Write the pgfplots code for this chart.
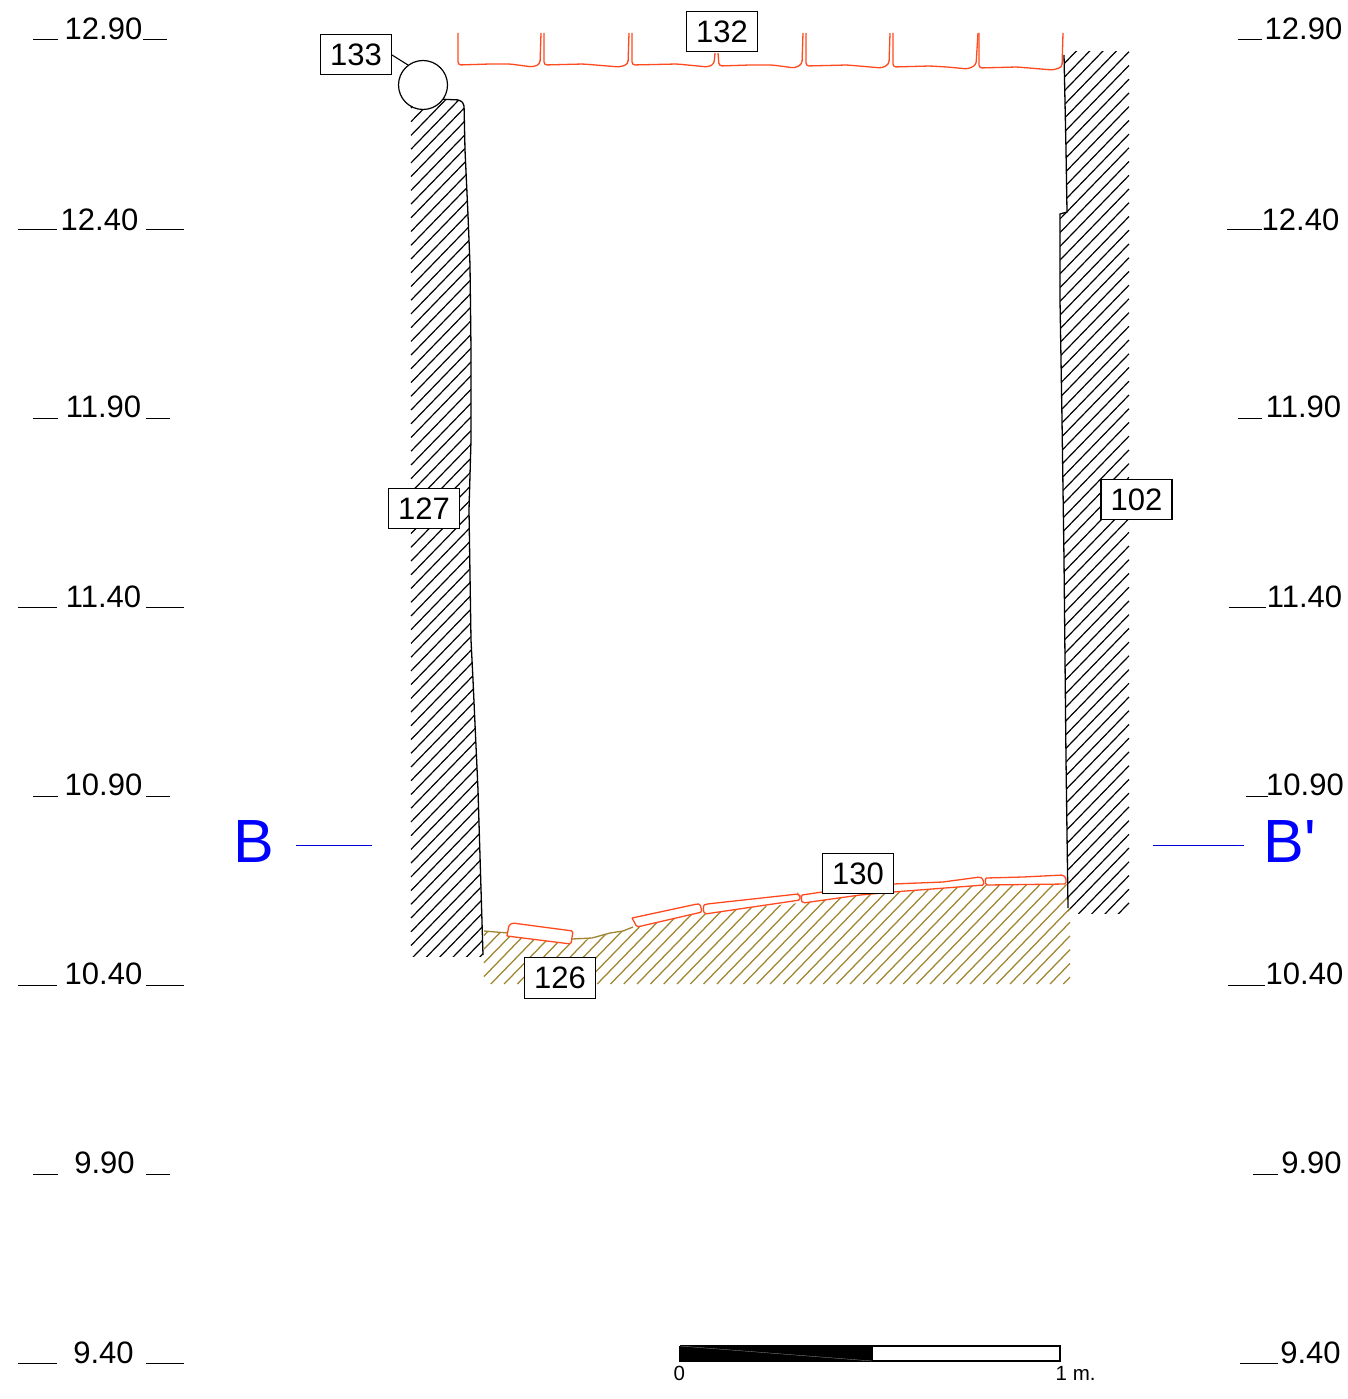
\documentclass[border=0pt]{standalone}
\usepackage{fontspec}
\setmainfont{Liberation Sans}
\usepackage{pgfplots}
\usepackage{pgfplotstable}
\pgfplotsset{compat=1.18}

\definecolor{brick}{HTML}{FF4A1F}
\definecolor{soil}{HTML}{A0852F}

% elevation labels, x is the middle of the text, y its baseline
\pgfplotstableread{
x y label
103.5 40 12.90
99.5 230 12.40
103.5 417 11.90
103.5 607 11.40
103.5 795 10.90
103.5 984 10.40
104.5 1173 9.90
103.5 1363 9.40
1303.5 40 12.90
1300.5 230 12.40
1303.5 417 11.90
1304.5 607 11.40
1305 795 10.90
1304.5 984 10.40
1311.5 1173 9.90
1310.5 1363 9.40
}\levels

% context numbers in boxes
\pgfplotstableread{
x y label
356 54.5 133
722 31.5 132
424 508.5 127
1136.5 499.5 102
858 873.5 130
560 978 126
}\contexts

% soil hatching: foot of each stroke and its run
\pgfplotstableread{
x y u v
1063.3 984 6.7 -6.9
1050.0 984 20 -20.6
1036.6 984 33.4 -34.4
1023.3 984 46.7 -48.1
1010.0 984 60 -61.8
996.6 984 73.4 -75.6
983.3 984 84.7 -87.2
970.0 984 98 -101
956.6 984 105 -108
943.3 984 105 -108
930.0 984 105 -108
916.6 984 105 -108
903.3 984 105 -108
890.0 984 105 -108
876.6 984 105 -108
863.3 984 105 -108
850.0 984 105 -108
836.6 984 105 -108
823.3 984 105 -108
810.0 984 105 -108
796.7 984 105 -108
783.4 984 105 -108
770.1 984 105 -108
756.8 984 105 -108
743.5 984 105 -108
730.2 984 105 -108
716.9 984 105 -108
703.6 984 105 -108
690.3 984 105 -108
677.0 984 105 -108
663.7 984 105 -108
650.4 984 105 -108
637.1 984 105 -108
623.8 984 105 -108
610.5 984 105 -108
597.2 984 105 -108
583.9 984 105 -108
570.6 984 105 -108
557.3 984 105 -108
544.0 984 105 -108
530.7 984 105 -108
517.4 984 105 -108
504.1 984 105 -108
490.8 984 105 -108
484 976.6 87 -90
484 962.8 78 -80
484 949.1 68 -70
484 935.4 58 -60
}\soilhatch

\begin{document}
\begin{tikzpicture}
\begin{axis}[
  scale only axis, width=1348pt, height=1399pt,
  xmin=0, xmax=1348, ymin=0, ymax=1399,
  y dir=reverse, hide axis, clip=false,
  unbounded coords=jump,
]
% keeps the page at full size
\addplot[draw=none] coordinates {(0,0) (1348,1399)};

% wall hatching, left wall 127
\addplot[black, line width=1.2pt, mark=none, quiver={u=73,v=-75.2}] coordinates {
(411,108.0)
(411,121.7) (411,135.4) (411,149.2) (411,162.9) (411,176.6) (411,190.4) (411,204.1) (411,217.8) (411,231.5) (411,245.3)
(411,259.0) (411,272.7) (411,286.5) (411,300.2) (411,313.9) (411,327.7) (411,341.4) (411,355.1) (411,368.8) (411,382.6)
(411,396.3) (411,410.0) (411,423.8) (411,437.5) (411,451.2) (411,465.0) (411,478.7) (411,492.4) (411,506.1) (411,519.9)
(411,533.6) (411,547.3) (411,561.1) (411,574.8) (411,588.5) (411,602.3) (411,616.0) (411,629.7) (411,643.4) (411,657.2)
(411,670.9) (411,684.6) (411,698.4) (411,712.1) (411,725.8) (411,739.6) (411,753.3) (411,767.0) (411,780.7) (411,794.5)
(411,808.2) (411,821.9) (411,835.7) (411,849.4) (411,863.1) (411,876.9) (411,890.6) (411,904.3) (411,918.0) (411,931.8)
(411,945.5) (411,959.2) (411,973.0) (411,986.7) (411,1000.4) (411,1014.2) (411,1027.9)
};
% wall hatching, right wall 102
\addplot[black, line width=1.2pt, mark=none, quiver={u=30,v=-30.9}] coordinates {(1060,67.9)};
\addplot[black, line width=1.2pt, mark=none, quiver={u=69,v=-71.1}] coordinates {
(1060,81.6) (1060,95.3) (1060,109.1)
(1060,122.8) (1060,136.5) (1060,150.3) (1060,164.0) (1060,177.7) (1060,191.5) (1060,205.2) (1060,218.9) (1060,232.6) (1060,246.4)
(1060,260.1) (1060,273.8) (1060,287.6) (1060,301.3) (1060,315.0) (1060,328.8) (1060,342.5) (1060,356.2) (1060,369.9) (1060,383.7)
(1060,397.4) (1060,411.1) (1060,424.9) (1060,438.6) (1060,452.3) (1060,466.1) (1060,479.8) (1060,493.5) (1060,507.2) (1060,521.0)
(1060,534.7) (1060,548.4) (1060,562.2) (1060,575.9) (1060,589.6) (1060,603.4) (1060,617.1) (1060,630.8) (1060,644.5) (1060,658.3)
(1060,672.0) (1060,685.7) (1060,699.5) (1060,713.2) (1060,726.9) (1060,740.7) (1060,754.4) (1060,768.1) (1060,781.8) (1060,795.6)
(1060,809.3) (1060,823.0) (1060,836.8) (1060,850.5) (1060,864.2) (1060,878.0) (1060,891.7) (1060,905.4) (1060,919.1) (1060,932.9)
(1060,946.6) (1060,960.3) (1060,974.0)
};
% white room trims the strokes to the wall outlines
\addplot[draw=none, fill=white] coordinates {
(405,0) (405,106) (411,106) (436,99) (460,100) (464,104) (465,150) (468,215) (470,265) (471,350) (471,440) (469,510) (471,640) (473,680) (478,790) (483,957)
(405,957) (405,1060) (1135,1060) (1135,914) (1068,914) (1068,908) (1066,760) (1064,560) (1062,420) (1060,300) (1060,214) (1067,212) (1066,150) (1064,55) (1070,51) (1135,51) (1135,0) (405,0)};

% soil 126
\addplot[soil, line width=1.25pt, mark=none, quiver={u=\thisrow{u},v=\thisrow{v}}] table[x=x, y=y] {\soilhatch};
\addplot[draw=none, fill=white] coordinates {
(484,931) (507,933) (570,944) (592,938) (610,933) (625,931) (637,927) (700,912) (800,903) (870,893) (985,885) (1068,884) (1068,860) (484,860) (484,931)};

% wall faces
\addplot[black, line width=1.3pt, rounded corners=2pt]
  coordinates {(436,99) (460,100) (464,104) (465,150) (468,215) (470,265) (471,350) (471,440) (469,510) (471,640) (473,680) (478,790) (483,955)};
\addplot[black, line width=1.3pt]
  coordinates {(1064,55) (1066,150) (1067,212) (1060,214) (1060,300) (1062,420) (1064,560) (1066,760) (1068,908)};

% floor surface
\addplot[soil, line width=1.3pt] coordinates {(484,931) (508,933) (nan,nan) (572,939) (592,938) (610,933) (623,931) (633,927)};

% bricks of floor 130
\addplot[brick, fill=white, line width=1.3pt, rounded corners=1.5pt]
  coordinates {(507,936) (509,925) (513,923) (520,924) (573,931) (571,944) (507,936)};
\addplot[brick, fill=white, line width=1.3pt, rounded corners=1.5pt]
  coordinates {(632,918) (697,904) (700,904) (702,912) (637,927) (632,918)};
\addplot[brick, fill=white, line width=1.3pt, rounded corners=1.5pt]
  coordinates {(704,905) (707,904) (798,894) (800,896) (800,900) (705,914) (703,910) (704,905)};
\addplot[brick, fill=white, line width=1.3pt, rounded corners=1.5pt]
  coordinates {(802,895) (822,892) (893,884) (943,882) (980,877) (983,879) (984,885) (893,892) (860,895) (803,903) (801,900) (802,895)};
\addplot[brick, fill=white, line width=1.3pt, rounded corners=1.5pt]
  coordinates {(986,878) (1023,877) (1063,875) (1066,878) (1066,884) (986,885) (985,882) (986,878)};

% tiles 132
\addplot[brick, line width=1.3pt, rounded corners=3pt] coordinates {(458,33) (458,65) (490,64) (510,64) (533,67) (540,64) (541,33)};
\addplot[brick, line width=1.3pt, rounded corners=3pt] coordinates {(544,33) (544,65) (583,64) (620,67) (628,64) (629,33)};
\addplot[brick, line width=1.3pt, rounded corners=3pt] coordinates {(632,33) (632,65) (677,64) (708,67) (714,64) (715,53)};
\addplot[brick, line width=1.3pt, rounded corners=3pt] coordinates {(718,53) (719,66) (750,65) (772,65) (795,68) (802,64) (803,33)};
\addplot[brick, line width=1.3pt, rounded corners=3pt] coordinates {(806,33) (806,66) (847,65) (882,68) (889,64) (890,33)};
\addplot[brick, line width=1.3pt, rounded corners=3pt] coordinates {(893,33) (893,67) (930,66) (947,67) (968,69) (976,65) (978,33)};
\addplot[brick, line width=1.3pt, rounded corners=3pt] coordinates {(979,33) (979,68) (1017,67) (1053,70) (1062,67) (1063,33)};

% pipe 133
\addplot[black, line width=1.1pt] coordinates {(392,55) (408,65)};
\addplot[only marks, mark=*, mark size=24.5pt, mark options={fill=white, draw=black, line width=1.2pt}] coordinates {(423,85)};

% elevation ticks
\addplot[black, line width=1pt] coordinates {
  (33,40) (58,40) (nan,nan) (143,40) (167,40) (nan,nan)
  (18,229) (57,229) (nan,nan) (146,229) (184,229) (nan,nan)
  (33,418) (58,418) (nan,nan) (146,418) (170,418) (nan,nan)
  (18,607) (57,607) (nan,nan) (146,607) (184,607) (nan,nan)
  (33,796) (58,796) (nan,nan) (146,796) (170,796) (nan,nan)
  (18,985) (57,985) (nan,nan) (146,985) (184,985) (nan,nan)
  (33,1174) (58,1174) (nan,nan) (146,1174) (170,1174) (nan,nan)
  (18,1363) (57,1363) (nan,nan) (146,1363) (184,1363) (nan,nan)
  (1238,40) (1262,40) (nan,nan)
  (1227,229) (1262,229) (nan,nan)
  (1238,418) (1262,418) (nan,nan)
  (1229,607) (1266,607) (nan,nan)
  (1246,796) (1268,796) (nan,nan)
  (1228,985) (1265,985) (nan,nan)
  (1253,1174) (1278,1174) (nan,nan)
  (1240,1363) (1278,1363)
};

% section marks
\addplot[color=blue!85!black, line width=0.8pt] coordinates {(296,845) (372,845) (nan,nan) (1153,845) (1244,845)};

% scale bar
\addplot[fill=white, draw=black, line width=1.1pt] coordinates {(680,1346) (1060,1346) (1060,1361) (680,1361) (680,1346)};
\addplot[fill=black, draw=black, line width=1.1pt] coordinates {(680,1346) (872,1346) (872,1361) (680,1361) (680,1346)};
\addplot[white!60!black, line width=0.3pt] coordinates {(680,1346) (872,1361)};

% texts
\addplot[draw=none, mark=none, point meta=explicit symbolic, nodes near coords,
  every node near coord/.style={anchor=base, inner sep=0pt, font=\fontsize{31}{31}\selectfont, text=black}]
  table[x=x, y=y, meta=label] {\levels};
\addplot[draw=none, mark=none, point meta=explicit symbolic, nodes near coords,
  every node near coord/.style={anchor=center, inner sep=0pt, draw=black, line width=1.2pt, fill=white,
    minimum width=71pt, minimum height=40.5pt, font=\fontsize{31}{31}\selectfont, text=black}]
  table[x=x, y=y, meta=label] {\contexts};
\addplot[draw=none, mark=none, point meta=explicit symbolic, nodes near coords,
  every node near coord/.style={anchor=base west, inner sep=0pt, font=\fontsize{61}{61}\selectfont, text=blue}]
  coordinates {(233.5,862) [B] (1263.5,862) [B\textquotesingle]};
\addplot[draw=none, mark=none, point meta=explicit symbolic, nodes near coords,
  every node near coord/.style={anchor=base west, inner sep=0pt, font=\fontsize{20.5}{20.5}\selectfont, text=black}]
  coordinates {(673.5,1380) [0] (1055.5,1380) [1 m.]};
\end{axis}
\end{tikzpicture}
\end{document}
